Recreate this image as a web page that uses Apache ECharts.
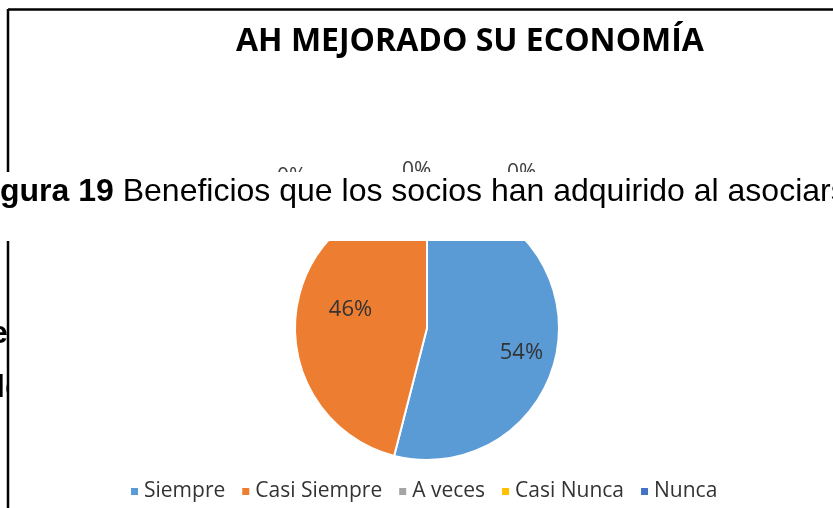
<!DOCTYPE html>
<html>
<head>
<meta charset="utf-8">
<script src="https://cdn.jsdelivr.net/npm/echarts@6/dist/echarts.min.js"></script>
<style>
  html, body { margin: 0; padding: 0; background: #fff; }
  #chart { width: 833px; height: 508px; }
</style>
</head>
<body>
<div id="chart"></div>
<script>
var chart = echarts.init(document.getElementById('chart'));

// datos del grafico
var categorias = ['Siempre', 'Casi Siempre', 'A veces', 'Casi Nunca', 'Nunca'];
var valores = [54, 46, 0, 0, 0];
var colores = ['#5B9BD5', '#ED7D31', '#A5A5A5', '#FFC000', '#4472C4'];
var titulo = 'AH MEJORADO SU ECONOMÍA';
var pieDeFigura = ['gura 19', 'Beneficios que los socios han adquirido al asociars'];

// ajuste de etiquetas (estilo excel)
var desplazamiento = [[26, 16], [-8, -10]];

var datos = categorias.map(function (c, i) {
  return {
    name: c,
    value: valores[i],
    itemStyle: { color: colores[i] },
    label: { show: valores[i] > 0 }
  };
});

var option = {
  backgroundColor: '#fff',
  animation: false,
  title: {
    text: titulo,
    left: 231,
    top: 21,
    textStyle: {
      fontFamily: 'Open Sans',
      fontWeight: 'bold',
      fontSize: 32,
      color: '#000'
    }
  },
  legend: {
    left: 124,
    top: 476,
    icon: 'rect',
    itemWidth: 9,
    itemHeight: 9,
    itemGap: 15,
    textStyle: { fontFamily: 'Open Sans', fontSize: 21, color: '#333' },
    data: categorias
  },
  series: [{
    type: 'pie',
    center: [427, 328],
    radius: 132,
    startAngle: 90,
    clockwise: true,
    itemStyle: { borderColor: '#fff', borderWidth: 2 },
    label: {
      position: 'inside',
      formatter: function (p) { return Math.round(p.percent) + '%'; },
      fontFamily: 'Open Sans',
      fontSize: 22,
      color: '#333'
    },
    labelLine: { show: false },
    emphasis: { disabled: true },
    labelLayout: function (p) {
      var d = desplazamiento[p.dataIndex] || [0, 0];
      return { dx: d[0], dy: d[1] };
    },
    data: datos
  }],
  graphic: [
    // texto del documento detras del grafico
    { type: 'text', z: 0, left: -10, top: 318, style: { text: 'e', font: 'bold 32px "Liberation Sans"', fill: '#000' } },
    { type: 'text', z: 0, left: -4, top: 372, style: { text: 'le', font: 'bold 32px "Liberation Sans"', fill: '#000' } },
    { type: 'rect', z: 1, shape: { x: 9, y: 11, width: 824, height: 497 }, style: { fill: '#fff' } },
    // marco
    { type: 'line', z: 5, shape: { x1: 8, y1: 9.5, x2: 833, y2: 9.5 }, style: { stroke: '#000', lineWidth: 2.5 } },
    { type: 'line', z: 5, shape: { x1: 8, y1: 9, x2: 8, y2: 508 }, style: { stroke: '#000', lineWidth: 2.5 } },
    // etiquetas 0% (parcialmente tapadas)
    { type: 'text', z: 3, left: 277, top: 167, style: { text: '0%', font: '21px "Open Sans"', fill: '#404040' } },
    { type: 'text', z: 3, left: 402, top: 161, style: { text: '0%', font: '21px "Open Sans"', fill: '#404040' } },
    { type: 'text', z: 3, left: 507, top: 163, style: { text: '0%', font: '21px "Open Sans"', fill: '#404040' } },
    // franja del documento encima
    { type: 'rect', z: 10, shape: { x: 0, y: 172, width: 833, height: 69 }, style: { fill: '#fff' } },
    {
      type: 'text', z: 11, left: 0, top: 176,
      style: {
        text: '{b|' + pieDeFigura[0] + '} ' + pieDeFigura[1],
        font: '32px "Liberation Sans"',
        fill: '#000',
        rich: { b: { font: 'bold 32px "Liberation Sans"', fill: '#000' } }
      }
    }
  ]
};

chart.setOption(option);
</script>
</body>
</html>
